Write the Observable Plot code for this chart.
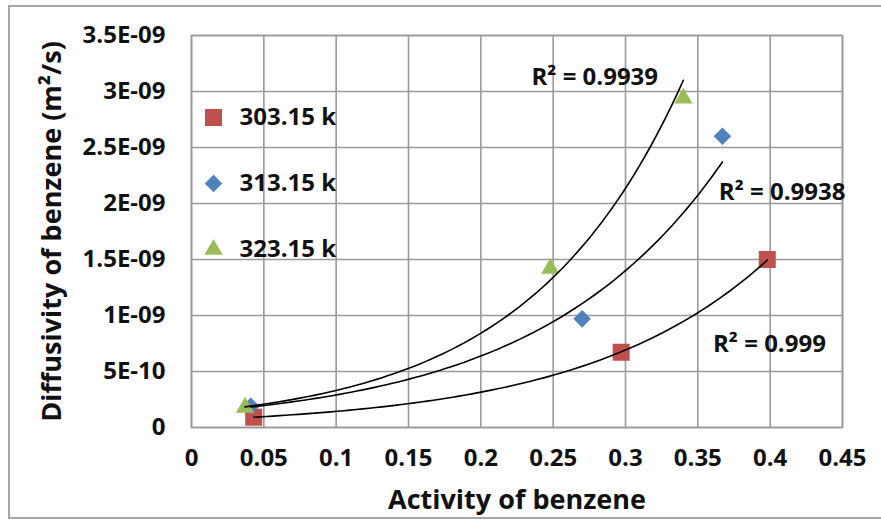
<!DOCTYPE html>
<html>
<head>
<meta charset="utf-8">
<script src="https://cdn.jsdelivr.net/npm/d3@7"></script>
<script src="https://cdn.jsdelivr.net/npm/@observablehq/plot@0.6"></script>
<style>
  html, body { margin: 0; padding: 0; background: #fff; }
  #wrap { position: relative; width: 881px; height: 522px; overflow: hidden; }
  #border { position: absolute; left: 8px; top: 5px; width: 900px; height: 514px; border: 2px solid #a6a6a6; box-sizing: border-box; pointer-events: none; }
</style>
</head>
<body>
<div id="wrap"><div id="border"></div></div>
<script>
// ---- data ----
const seriesNames = ["303.15 k", "313.15 k", "323.15 k"];
const seriesColors = ["#C0504D", "#4F81BD", "#9BBB59"];
const seriesSymbols = ["square", "diamond2", "triangle"];

const act303 = [0.043, 0.297, 0.398];
const dif303 = [0.92e-10, 6.72e-10, 1.50e-9];
const act313 = [0.041, 0.270, 0.367];
const dif313 = [1.9e-10, 9.7e-10, 2.60e-9];
const act323 = [0.037, 0.248, 0.340];
const dif323 = [1.8e-10, 1.42e-9, 2.94e-9];

const r2Labels = ["R² = 0.999", "R² = 0.9938", "R² = 0.9939"];

const xTicks = [0, 0.05, 0.1, 0.15, 0.2, 0.25, 0.3, 0.35, 0.4, 0.45];
const xTickLabels = ["0", "0.05", "0.1", "0.15", "0.2", "0.25", "0.3", "0.35", "0.4", "0.45"];
const yTicks = [0, 5e-10, 1e-9, 1.5e-9, 2e-9, 2.5e-9, 3e-9, 3.5e-9];
const yTickLabels = ["0", "5E-10", "1E-09", "1.5E-09", "2E-09", "2.5E-09", "3E-09", "3.5E-09"];

// ---- build tables ----
const acts = [act303, act313, act323];
const difs = [dif303, dif313, dif323];
const points = [];
seriesNames.forEach((s, k) => acts[k].forEach((a, i) => points.push({series: s, act: a, dif: difs[k][i]})));

// Excel-style exponential trendline: least squares fit of ln(y) on x
function expFit(xs, ys) {
  const ly = ys.map(Math.log);
  const mx = d3.mean(xs), my = d3.mean(ly);
  let sxy = 0, sxx = 0;
  xs.forEach((x, i) => { sxy += (x - mx) * (ly[i] - my); sxx += (x - mx) ** 2; });
  const b = sxy / sxx, a = my - b * mx;
  return x => Math.exp(a + b * x);
}
const trend = [];
seriesNames.forEach((s, k) => {
  const f = expFit(acts[k], difs[k]);
  const [lo, hi] = d3.extent(acts[k]);
  d3.range(0, 81).forEach(j => {
    const x = lo + (hi - lo) * j / 80;
    trend.push({series: s, act: x, dif: f(x)});
  });
});

const sizes = [9.6, 7.9, 6.8];
const font = "'Open Sans', 'DejaVu Sans', sans-serif";
const legendMarks = seriesNames.flatMap((s, k) => [
  Plot.dot([s], {frameAnchor: "top-left", dx: 22, dy: 82 + k * 66, symbol: seriesSymbols[k], fill: seriesColors[k], r: sizes[k]}),
  Plot.text([s], {frameAnchor: "top-left", dx: 48, dy: 82 + k * 66, text: d => d, textAnchor: "start", lineAnchor: "middle", fill: "#111"})
]);

const chart = Plot.plot({
  width: 881,
  height: 522,
  marginLeft: 191,
  marginRight: 39,
  marginTop: 35,
  marginBottom: 95,
  style: {fontFamily: font, fontSize: "24px", fontWeight: "bold", color: "#111", background: "transparent"},
  x: {domain: [0, 0.45]},
  y: {domain: [0, 3.5e-9]},
  symbol: {domain: seriesNames, range: seriesSymbols},
  color: {domain: seriesNames, range: seriesColors},
  marks: [
    Plot.gridX(xTicks, {stroke: "#9a9a9a", strokeOpacity: 1, strokeWidth: 1.6}),
    Plot.gridY(yTicks, {stroke: "#9a9a9a", strokeOpacity: 1, strokeWidth: 1.6}),
    Plot.frame({stroke: "#9a9a9a", strokeWidth: 1.6}),
    Plot.axisX({ticks: xTicks, tickFormat: d => xTickLabels[xTicks.indexOf(d)], tickSize: 0, tickPadding: 21, label: null}),
    Plot.axisY({ticks: yTicks, tickFormat: d => yTickLabels[yTicks.indexOf(d)], tickSize: 0, tickPadding: 26, label: null}),
    Plot.text(["Activity of benzene"], {frameAnchor: "bottom", dy: 73, lineAnchor: "middle", textAnchor: "middle", fontSize: 27, fill: "#111"}),
    Plot.text(["Diffusivity of benzene (m²/s)"], {frameAnchor: "left", dx: -139, rotate: -90, textAnchor: "middle", lineAnchor: "middle", fontSize: 27, fill: "#111"}),
    ...legendMarks,
    ...seriesNames.map((s, k) => Plot.dot(points.filter(d => d.series === s), {x: "act", y: "dif", symbol: "series", fill: "series", r: sizes[k]})),
    Plot.line(trend, {x: "act", y: "dif", z: "series", stroke: "#000", strokeWidth: 1.6, curve: "linear"}),
    Plot.text([r2Labels[2]], {x: () => 0.235, y: () => 3.125e-9, textAnchor: "start", fill: "#111"}),
    Plot.text([r2Labels[1]], {x: () => 0.3645, y: () => 2.10e-9, textAnchor: "start", fill: "#111"}),
    Plot.text([r2Labels[0]], {x: () => 0.3605, y: () => 0.747e-9, textAnchor: "start", fill: "#111"})
  ]
});
document.getElementById("wrap").appendChild(chart);
</script>
</body>
</html>
